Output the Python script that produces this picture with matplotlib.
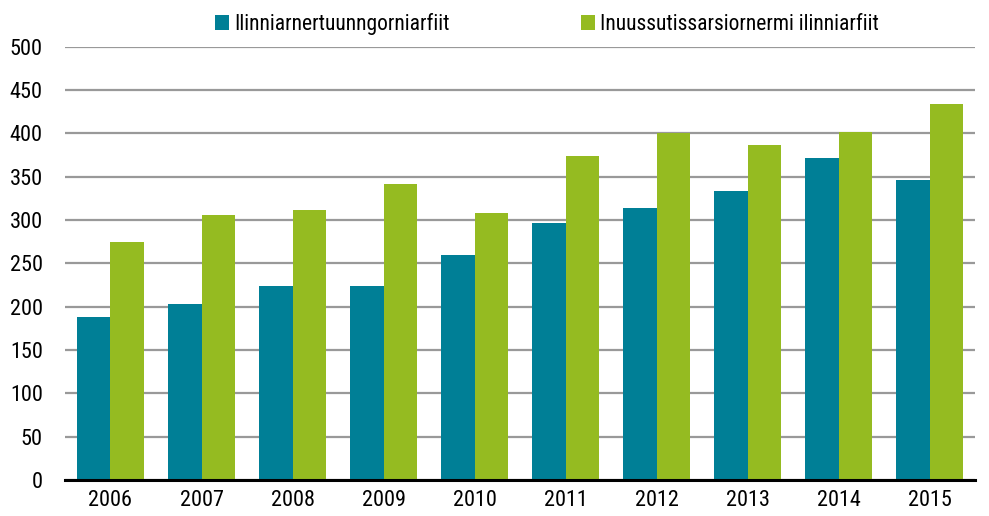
import matplotlib
matplotlib.use("Agg")
import matplotlib.pyplot as plt
import numpy as np
from matplotlib import font_manager

years = ["2006", "2007", "2008", "2009", "2010", "2011", "2012", "2013", "2014", "2015"]
series1_name = "Ilinniarnertuunngorniarfiit"
series2_name = "Inuussutissarsiornermi ilinniarfiit"
series1 = [188, 203, 224, 224, 260, 297, 314, 333, 372, 346]
series2 = [275, 306, 311, 341, 308, 374, 400, 387, 402, 434]
yticks = [0, 50, 100, 150, 200, 250, 300, 350, 400, 450, 500]

names = {f.name for f in font_manager.fontManager.ttflist}
cands = ["Liberation Sans Narrow", "Roboto Condensed", "Open Sans Condensed",
         "DejaVu Sans Condensed", "Noto Sans Condensed", "Arial Narrow"]
chosen = [c for c in cands if c in names]
fam = chosen[:1] + ["DejaVu Sans"]
plt.rcParams['font.family'] = fam
if not chosen:
    plt.rcParams['font.stretch'] = 'condensed'

blue = "#007F96"
green = "#95BB21"

fig = plt.figure(figsize=(9.89, 5.16), dpi=100)
ax = fig.add_axes([0.0657, 0.0698, 0.9203, 0.8397])

x = np.arange(len(years))
w = 0.366
ax.bar(x - w/2, series1, w, color=blue, label=series1_name, zorder=3)
ax.bar(x + w/2, series2, w, color=green, label=series2_name, zorder=3)

ax.set_xlim(-0.5, len(years) - 0.5)
ax.set_ylim(0, 500)
ax.set_yticks(yticks)
ax.set_xticks(x)
ax.set_xticklabels(years)
ax.tick_params(axis='both', length=0, labelsize=16)
ax.tick_params(axis='y', pad=16)
ax.tick_params(axis='x', pad=7)
ax.yaxis.grid(True, color="#999999", linewidth=1.6, zorder=0)
for s in ["top", "right", "left"]:
    ax.spines[s].set_visible(False)
ax.spines["bottom"].set_color("black")
ax.spines["bottom"].set_linewidth(2.2)
ax.spines["bottom"].set_zorder(4)

leg = fig.legend(loc="upper center", bbox_to_anchor=(0.553, 1.012), ncol=2, frameon=False,
                 fontsize=15.5, handlelength=0.65, handleheight=0.65, handletextpad=0.25,
                 columnspacing=6.1)
plt.savefig("out.png", dpi=100)
